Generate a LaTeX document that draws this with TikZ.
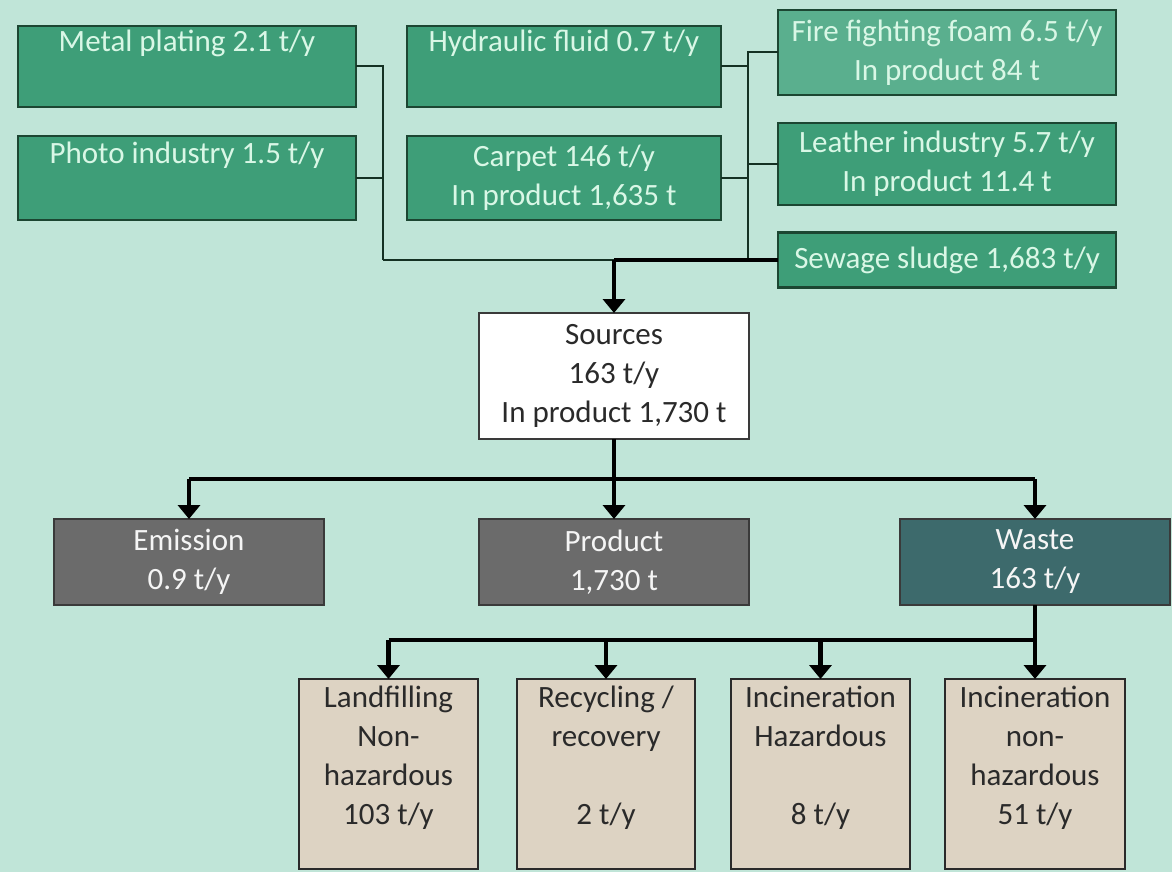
\documentclass[tikz,border=0pt]{standalone}
\usepackage{fontspec}
\setmainfont{Carlito}
\usetikzlibrary{arrows.meta}
\definecolor{bgc}{HTML}{C0E5D8}
\definecolor{grf}{HTML}{3E9E78}
\definecolor{grl}{HTML}{5AAF8E}
\definecolor{grd}{HTML}{1C4632}
\definecolor{grt}{HTML}{D9F7E6}
\definecolor{gyf}{HTML}{6B6B6B}
\definecolor{gyd}{HTML}{3A3A3A}
\definecolor{wsf}{HTML}{3D6A6C}
\definecolor{bgf}{HTML}{DDD3C3}
\definecolor{txd}{HTML}{2A2A2A}
\tikzset{
  box/.style={draw, line width=2.6pt, inner sep=0pt, outer sep=0pt, align=center,
    font=\fontsize{31}{39}\selectfont},
  srcbox/.style={box, fill=grf, draw=grd, text=grt},
  srclight/.style={box, fill=grl, draw=grd, text=grt},
  graybox/.style={box, fill=gyf, draw=gyd, text=white!92!gray},
  wastebox/.style={box, fill=wsf, draw=gyd, text=white!92!gray},
  whitebox/.style={box, fill=white, draw=gyd, text=txd},
  endbox/.style={box, fill=bgf, draw=txd, text=txd},
  thinline/.style={draw=grd!70!black, line width=2pt},
  thickline/.style={draw=black, line width=4.5pt},
  tip/.style={-{Triangle[width=22pt,length=14pt]}},
}
\newcommand{\topbox}[1]{\parbox[c][186pt][t]{178pt}{\centering\vspace*{5pt}#1}}
\begin{document}
\begin{tikzpicture}[x=1pt,y=-1pt]
\fill[bgc] (0,0) rectangle (1172,872);
\useasboundingbox (0,0) rectangle (1172,872);
% source boxes
\node[srcbox, minimum width=338, minimum height=81] (metal) at (187,66.5) {Metal plating 2.1 t/y\\ \strut};
\node[srcbox, minimum width=338, minimum height=84] (photo) at (187,178) {Photo industry 1.5 t/y\\ \strut};
\node[srcbox, minimum width=314, minimum height=81] (hyd) at (564,66.5) {Hydraulic fluid 0.7 t/y\\ \strut};
\node[srcbox, minimum width=314, minimum height=84] (carpet) at (564,178) {Carpet 146 t/y\\ In product 1,635 t};
\node[srclight, minimum width=338, minimum height=85] (fire) at (947,52.5) {Fire fighting foam 6.5 t/y\\ In product 84 t};
\node[srcbox, minimum width=338, minimum height=82] (leather) at (947,164) {Leather industry 5.7 t/y\\ In product 11.4 t};
\node[srcbox, minimum width=338, minimum height=55] (sewage) at (947,260) {Sewage sludge 1,683 t/y};
% sources
\node[whitebox, minimum width=270, minimum height=126] (sources) at (614,376) {Sources\\ 163 t/y\\ In product 1,730 t};
% second level
\node[graybox, minimum width=270, minimum height=86] (emission) at (189,562) {Emission\\ 0.9 t/y};
\node[graybox, minimum width=270, minimum height=86] (product) at (614,562) {Product\\ 1,730 t};
\node[wastebox, minimum width=270, minimum height=86] (waste) at (1035,562) {Waste\\ 163 t/y};
% end boxes
\node[endbox, minimum width=179, minimum height=190] (lf) at (388.5,774) {\topbox{Landfilling\\ Non-\\ hazardous\\ 103 t/y}};
\node[endbox, minimum width=178, minimum height=190] (rec) at (606,774) {\topbox{Recycling /\\ recovery\\ \strut\\ 2 t/y}};
\node[endbox, minimum width=179, minimum height=190] (ih) at (820.5,774) {\topbox{Incineration\\ Hazardous\\ \strut\\ 8 t/y}};
\node[endbox, minimum width=180, minimum height=190] (inh) at (1035,774) {\topbox{Incineration\\ non-\\ hazardous\\ 51 t/y}};
% connectors top
\coordinate (lv) at (383,260);
\coordinate (rv) at (748,260);
\coordinate (mj) at (614,260);
\draw[thinline] (metal.east) -| (lv);
\draw[thinline] (photo.east) -- (lv |- photo.east);
\draw[thinline] (lv) -- (mj);
\draw[thinline] (hyd.east) -- (rv |- hyd.east);
\draw[thinline] (carpet.east) -- (rv |- carpet.east);
\draw[thinline] (fire.west) -| (rv);
\draw[thinline] (leather.west) -- (rv |- leather.west);
\draw[thickline] (sewage.west) -- (mj);
\draw[thickline, tip] (mj) -- (sources.north);
% sources to second level
\coordinate (b1) at (614,479);
\draw[thickline] (sources.south) -- (b1);
\draw[thickline] (emission.north |- b1) -- (waste.north |- b1);
\draw[thickline, tip] (emission.north |- b1) -- (emission.north);
\draw[thickline, tip] (b1) -- (product.north);
\draw[thickline, tip] (waste.north |- b1) -- (waste.north);
% waste to end boxes
\coordinate (b2) at (1035,640);
\draw[thickline] (waste.south) -- (b2);
\draw[thickline] (lf.north |- b2) -- (b2);
\draw[thickline, tip] (lf.north |- b2) -- (lf.north);
\draw[thickline, tip] (rec.north |- b2) -- (rec.north);
\draw[thickline, tip] (ih.north |- b2) -- (ih.north);
\draw[thickline, tip] (b2) -- (inh.north);
\end{tikzpicture}
\end{document}
